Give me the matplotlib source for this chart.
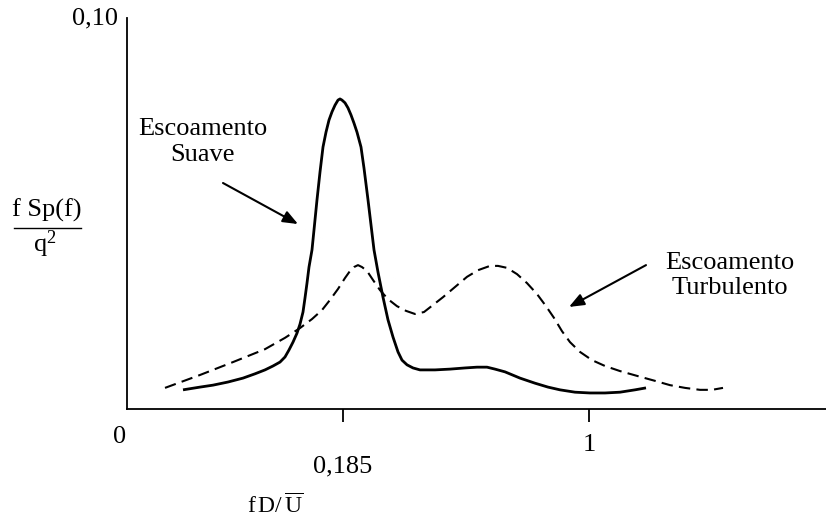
import matplotlib
matplotlib.use("Agg")
import matplotlib.pyplot as plt

plt.rcParams['font.family'] = ['Liberation Serif', 'DejaVu Serif']
plt.rcParams['mathtext.fontset'] = 'custom'
plt.rcParams['mathtext.rm'] = 'Liberation Serif'
plt.rcParams['mathtext.it'] = 'Liberation Serif'

# schematic x position (arbitrary units) and spectrum value f Sp(f)/q^2
suave_x = [0.56, 0.73, 0.86, 1.01, 1.16, 1.28, 1.38, 1.46, 1.53, 1.58, 1.62, 1.66, 1.70, 1.73,
           1.76, 1.78, 1.80, 1.82, 1.85, 1.87, 1.90, 1.93, 1.96, 1.99, 2.02, 2.05, 2.08, 2.11,
           2.13, 2.15, 2.18, 2.21, 2.24, 2.27, 2.30, 2.34, 2.37, 2.41, 2.44, 2.47, 2.51, 2.56,
           2.61, 2.66, 2.71, 2.75, 2.80, 2.86, 2.93, 3.08, 3.23, 3.38, 3.50, 3.60, 3.68, 3.78,
           3.93, 4.08, 4.21, 4.33, 4.48, 4.63, 4.78, 4.93, 5.08, 5.19]
suave_y = [0.0049, 0.0056, 0.0061, 0.0069, 0.0079, 0.0090, 0.0100, 0.0110, 0.0120, 0.0133, 0.0151, 0.0171, 0.0194, 0.0217,
           0.0248, 0.0284, 0.0322, 0.0363, 0.0407, 0.0458, 0.0535, 0.0606, 0.0670, 0.0708, 0.0739, 0.0760, 0.0777, 0.0790,
           0.0793, 0.0790, 0.0783, 0.0770, 0.0752, 0.0731, 0.0708, 0.0670, 0.0616, 0.0535, 0.0471, 0.0407, 0.0350, 0.0286,
           0.0228, 0.0184, 0.0146, 0.0125, 0.0113, 0.0105, 0.0100, 0.0100, 0.0102, 0.0105, 0.0107, 0.0107, 0.0102, 0.0095,
           0.0079, 0.0066, 0.0056, 0.0049, 0.0043, 0.0041, 0.0041, 0.0043, 0.0049, 0.0054]

turb_x = [0.38, 0.73, 1.06, 1.38, 1.58, 1.73, 1.85, 1.95, 2.03, 2.11, 2.18, 2.23, 2.27, 2.31, 2.35,
          2.40, 2.46, 2.53, 2.61, 2.70, 2.79, 2.88, 2.97, 3.06, 3.16, 3.28, 3.40, 3.51, 3.63, 3.71,
          3.80, 3.90, 4.00, 4.10, 4.19, 4.27, 4.35, 4.43, 4.53, 4.65, 4.78, 4.93, 5.11, 5.28, 5.43,
          5.58, 5.73, 5.85, 5.96]
turb_y = [0.0054, 0.0087, 0.0120, 0.0153, 0.0182, 0.0207, 0.0230, 0.0253, 0.0279, 0.0307, 0.0335, 0.0353, 0.0363, 0.0368, 0.0363,
          0.0353, 0.0330, 0.0304, 0.0281, 0.0263, 0.0251, 0.0243, 0.0248, 0.0266, 0.0286, 0.0312, 0.0338, 0.0355, 0.0366, 0.0366,
          0.0361, 0.0345, 0.0322, 0.0294, 0.0263, 0.0233, 0.0199, 0.0171, 0.0146, 0.0125, 0.0110, 0.0097, 0.0084, 0.0072, 0.0061,
          0.0054, 0.0049, 0.0049, 0.0054]

tick_pos = [2.16, 4.62]
tick_labels = ['0,185', '1']

fig = plt.figure(figsize=(8.26, 5.21), dpi=100)
ax = fig.add_axes([127/826, 112/521, 699/826, 391/521])
ax.set_xlim(0, 6.99)
ax.set_ylim(0, 0.1)

ax.plot(suave_x, suave_y, color='black', lw=2.0, solid_joinstyle='round', solid_capstyle='butt')
ax.plot(turb_x, turb_y, color='black', lw=1.5, dashes=(5.5, 3.0))

for s in ['top', 'right']:
    ax.spines[s].set_visible(False)
for s in ['left', 'bottom']:
    ax.spines[s].set_linewidth(1.3)

ax.set_yticks([])
ax.set_xticks(tick_pos)
ax.set_xticklabels([])
ax.tick_params(axis='x', which='major', direction='out', length=9.5, width=1.3)
ax.set_xticks(tick_pos, minor=True)
ax.tick_params(axis='x', which='minor', direction='in', length=5, width=1.3)

fs = 19
xt = ax.get_xaxis_transform()
ax.text(-0.07, -28/391, '0', ha='center', va='center', fontsize=fs, transform=xt)
ax.text(tick_pos[0], -57/391, tick_labels[0], ha='center', va='center', fontsize=fs, transform=xt)
ax.text(tick_pos[1], -36/391, tick_labels[1], ha='center', va='center', fontsize=fs, transform=xt)
ax.text(-32/699, 1.0, '0,10', ha='center', va='center', fontsize=fs, transform=ax.transAxes)

# y label as a fraction
fig.text(47/826, 1 - 210/521, 'f Sp(f)', ha='center', va='center', fontsize=fs)
fig.add_artist(plt.Line2D([14/826, 81/826], [1 - 228/521, 1 - 228/521], color='black', lw=1.0))
fig.text(45/826, 1 - 244/521, r'q$^{2}$', ha='center', va='center', fontsize=fs)

# x label
fig.text(275/826, 1 - 506/521, r'f$\,$D/$\,\overline{\mathrm{U}}$', ha='center', va='center', fontsize=17)

arrow = dict(arrowstyle='-|>,head_length=0.45,head_width=0.18', color='black', lw=1.5,
             mutation_scale=20, shrinkA=0, shrinkB=0)
ax.text(0.76, 0.0683, 'Escoamento\nSuave', ha='center', va='center', fontsize=fs, linespacing=1.2)
ax.annotate('', xy=(1.71, 0.0473), xytext=(0.96, 0.0578), arrowprops=arrow)
ax.text(6.03, 0.0342, 'Escoamento\nTurbulento', ha='center', va='center', fontsize=fs, linespacing=1.2)
ax.annotate('', xy=(4.42, 0.0261), xytext=(5.19, 0.0368), arrowprops=arrow)

fig.savefig('out.png', dpi=100)
